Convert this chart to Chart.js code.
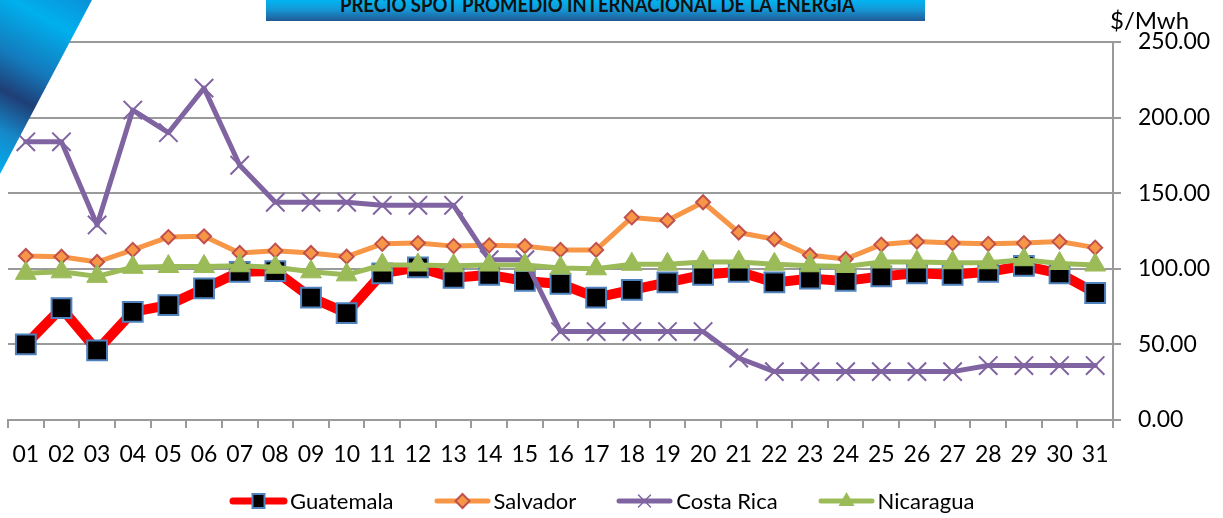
<!DOCTYPE html>
<html>
<head>
<meta charset="utf-8">
<title>Precio spot promedio internacional de la energia</title>
<script src="https://cdn.jsdelivr.net/npm/chart.js@4.4.1/dist/chart.umd.min.js"></script>
<style>
    html, body { margin: 0; padding: 0; background: #fff; }
    #wrap { position: relative; width: 1223px; height: 518px; overflow: hidden; font-family: Lato, "Liberation Sans", sans-serif; }
    #chartBox { position: absolute; left: 0; top: 0; width: 1223px; height: 518px; }
    #banner {
        position: absolute; left: 266px; top: 0; width: 659px; height: 21px; overflow: hidden;
        background: linear-gradient(to bottom, #00B4F1 0%, #1598D6 45%, #1F5A95 100%);
    }
    #banner span {
        position: absolute; left: 74px; top: -6px; line-height: 20px; font-size: 20px;
        font-weight: bold; color: #111; white-space: nowrap; transform-origin: 0 0;
    }
    #unidad { position: absolute; left: 1110px; top: 6px; font-size: 24px; color: #000; line-height: 28px; }
    #leyenda { position: absolute; left: 229px; top: 490px; height: 22px; display: flex; align-items: center; gap: 39px; }
    #leyenda .item { display: flex; align-items: center; }
    #leyenda canvas { display: block; }
    #leyenda span { font-size: 22px; color: #000; margin-left: 2px; line-height: 22px; }
</style>
</head>
<body>
<div id="wrap">
    <div id="chartBox"><canvas id="spotChart"></canvas></div>
    <div id="banner"><span id="bannerText">PRECIO SPOT PROMEDIO INTERNACIONAL DE LA ENERGIA</span></div>
    <div id="unidad">$/Mwh</div>
    <div id="leyenda"></div>
</div>
<script>
    // dias del mes
    const dias = ["01", "02", "03", "04", "05", "06", "07", "08", "09", "10",
        "11", "12", "13", "14", "15", "16", "17", "18", "19", "20",
        "21", "22", "23", "24", "25", "26", "27", "28", "29", "30", "31"];

    // precios en $/Mwh
    const guatemala = [50, 74, 46, 71.5, 76, 87, 98, 98.5, 81, 70.7, 97, 101,
        94, 96, 92, 90, 81, 86, 91, 96, 98, 91, 93.5, 92, 95, 97, 96, 98, 102, 97, 84];
    const salvador = [108.5, 108, 104.5, 112.5, 121, 121.5, 110.5, 112, 110.5, 108, 116.5, 117,
        115, 115.5, 115, 112.5, 112.5, 134, 132, 144, 124, 119.5, 109, 106.5, 116, 118, 117, 116.5, 117, 118, 114];
    const costaRica = [184, 184, 129, 205, 190, 219.5, 168.5, 144, 144, 144, 142, 142,
        142, 106, 106, 58.5, 58.5, 58.5, 58.5, 58.5, 41, 32, 32, 32, 32, 32, 32, 36, 36, 36, 36];
    const nicaragua = [97, 98, 95, 101, 101.5, 101.5, 102, 101, 98, 96, 102.5, 102.5,
        102, 102.5, 102.5, 100.5, 100, 103, 103, 104.5, 104.5, 103, 102, 101.5, 104.5, 104.5, 104, 104, 106, 103.5, 102.5];

    const yTicks = [0, 50, 100, 150, 200, 250];

    Chart.defaults.font.family = "Lato, 'Liberation Sans', sans-serif";
    Chart.defaults.font.size = 23;
    Chart.defaults.color = "#000";

    const GRIS = "#9A9A9A";

    // triangulo decorativo arriba a la izquierda
    const esquina = {
        id: "esquina",
        afterDraw: function (chart) {
            const ctx = chart.ctx;
            const g = ctx.createLinearGradient(95, 0, 0, 175);
            g.addColorStop(0, "#0B8ED6");
            g.addColorStop(0.2, "#00B0EE");
            g.addColorStop(0.45, "#1479BB");
            g.addColorStop(0.62, "#1F3E76");
            g.addColorStop(0.8, "#1688C8");
            g.addColorStop(1, "#00AEEF");
            ctx.save();
            ctx.beginPath();
            ctx.moveTo(0, 0);
            ctx.lineTo(92, 0);
            ctx.lineTo(0, 174);
            ctx.closePath();
            ctx.fillStyle = g;
            ctx.fill();
            ctx.restore();
        }
    };

    const series = [
        { label: "Guatemala", data: guatemala, color: "#FF0000", width: 10, order: 4,
          pointStyle: "rect", radius: 14, fill: "#000000", border: "#4F81BD", bw: 2 },
        { label: "Salvador", data: salvador, color: "#F79646", width: 5, order: 3,
          pointStyle: "rectRot", radius: 7, fill: "#F79646", border: "#C0504D", bw: 2 },
        { label: "Costa Rica", data: costaRica, color: "#8064A2", width: 5, order: 2,
          pointStyle: "crossRot", radius: 13, fill: "#8064A2", border: "#8064A2", bw: 2 },
        { label: "Nicaragua", data: nicaragua, color: "#9BBB59", width: 5, order: 1,
          pointStyle: "triangle", radius: 12, fill: "#9BBB59", border: "#9BBB59", bw: 1 }
    ];

    new Chart(document.getElementById("spotChart").getContext("2d"), {
        type: "line",
        data: {
            labels: dias,
            datasets: series.map(function (s) {
                return {
                    label: s.label,
                    data: s.data,
                    order: s.order,
                    borderColor: s.color,
                    borderWidth: s.width,
                    borderJoinStyle: "round",
                    borderCapStyle: "round",
                    tension: 0,
                    pointStyle: s.pointStyle,
                    pointRadius: s.radius,
                    pointHoverRadius: s.radius,
                    pointBackgroundColor: s.fill,
                    pointBorderColor: s.border,
                    pointBorderWidth: s.bw
                };
            })
        },
        options: {
            responsive: true,
            maintainAspectRatio: false,
            animation: false,
            layout: { autoPadding: false, padding: { left: 8, top: 42, right: 0, bottom: 48 } },
            plugins: { legend: { display: false }, tooltip: { enabled: false } },
            scales: {
                x: {
                    offset: true,
                    grid: { offset: true, drawOnChartArea: false, drawTicks: true, tickLength: 8, color: GRIS, lineWidth: 2 },
                    border: { display: true, color: GRIS, width: 2 },
                    ticks: { padding: 13, maxRotation: 0, autoSkip: false, color: "#000" },
                    afterFit: function (scale) {
                        scale.height = 50;
                        scale.paddingLeft = 0;
                        scale.paddingRight = 0;
                    }
                },
                y: {
                    position: "right",
                    min: 0,
                    max: 250,
                    afterBuildTicks: function (scale) {
                        scale.ticks = yTicks.map(function (v) { return { value: v }; });
                    },
                    grid: { color: GRIS, lineWidth: 2, tickLength: 8 },
                    border: { display: true, color: GRIS, width: 2 },
                    ticks: {
                        padding: 17,
                        color: "#000",
                        callback: function (v) { return Number(v).toFixed(2); }
                    },
                    afterFit: function (scale) { scale.width = 110; }
                }
            }
        },
        plugins: [esquina]
    });

    // leyenda: linea con marcador, como en el original
    function dibujarMuestra(s) {
        const c = document.createElement("canvas");
        c.width = 59; c.height = 22;
        const ctx = c.getContext("2d");
        const cx = 29.5, cy = 11;
        ctx.lineCap = "round";
        ctx.strokeStyle = s.color;
        ctx.lineWidth = s.label === "Guatemala" ? 7 : 5;
        ctx.beginPath();
        ctx.moveTo(4, cy);
        ctx.lineTo(55, cy);
        ctx.stroke();
        ctx.lineWidth = 2;
        if (s.pointStyle === "rect") {
            ctx.fillStyle = s.fill;
            ctx.fillRect(cx - 6, cy - 7, 12, 14);
            ctx.strokeStyle = s.border;
            ctx.strokeRect(cx - 6, cy - 7, 12, 14);
        } else if (s.pointStyle === "rectRot") {
            ctx.beginPath();
            ctx.moveTo(cx, cy - 7); ctx.lineTo(cx + 7, cy); ctx.lineTo(cx, cy + 7); ctx.lineTo(cx - 7, cy);
            ctx.closePath();
            ctx.fillStyle = s.fill; ctx.fill();
            ctx.strokeStyle = s.border; ctx.stroke();
        } else if (s.pointStyle === "crossRot") {
            ctx.strokeStyle = s.border;
            ctx.lineWidth = 1.5;
            ctx.beginPath();
            ctx.moveTo(cx - 6, cy - 6); ctx.lineTo(cx + 6, cy + 6);
            ctx.moveTo(cx + 6, cy - 6); ctx.lineTo(cx - 6, cy + 6);
            ctx.stroke();
        } else {
            ctx.beginPath();
            ctx.moveTo(cx, cy - 9); ctx.lineTo(cx + 8, cy + 5); ctx.lineTo(cx - 8, cy + 5);
            ctx.closePath();
            ctx.fillStyle = s.fill; ctx.fill();
        }
        return c;
    }

    const leyenda = document.getElementById("leyenda");
    series.forEach(function (s) {
        const item = document.createElement("div");
        item.className = "item";
        item.appendChild(dibujarMuestra(s));
        const t = document.createElement("span");
        t.textContent = s.label;
        item.appendChild(t);
        leyenda.appendChild(item);
    });

    // titulo comprimido al ancho de la franja original
    const bt = document.getElementById("bannerText");
    bt.style.transform = "scaleX(" + (515 / bt.scrollWidth) + ")";
</script>
</body>
</html>
